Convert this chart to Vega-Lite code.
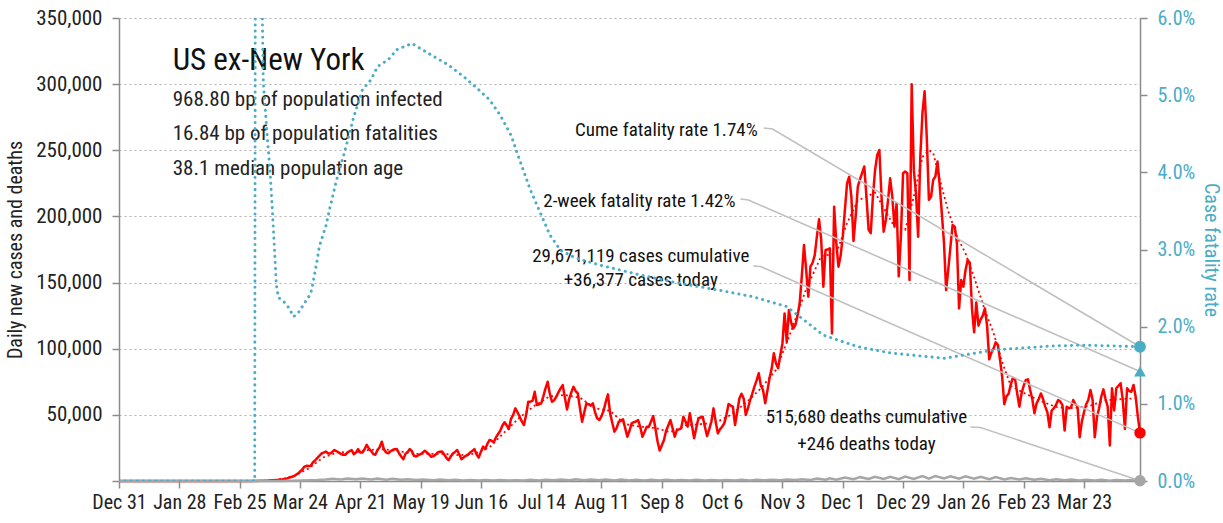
{
"$schema":"https://vega.github.io/schema/vega-lite/v6.json",
"width":1021,"height":463,
"autosize":{"type":"none"},
"padding":{"left":119,"top":18,"right":83,"bottom":42},
"config":{
 "font":"Liberation Sans Narrow, Arial Narrow, Roboto Condensed, DejaVu Sans Condensed, sans-serif",
 "view":{"stroke":null},
 "axis":{"domainColor":"#8c8c8c","domainWidth":1.5,"tickColor":"#8c8c8c","tickWidth":1.5,"tickSize":7,"labelColor":"#222222","labelFontSize":20,"titleFontWeight":"normal","titleColor":"#222222","titleFontSize":20,"labelPadding":10}
},
"datasets":{
"cases":[
{"date":"2019-12-31","cases":0},{"date":"2020-03-01","cases":0},{"date":"2020-03-09","cases":300},
{"date":"2020-03-10","cases":400},{"date":"2020-03-11","cases":500},{"date":"2020-03-12","cases":600},{"date":"2020-03-13","cases":800},{"date":"2020-03-14","cases":900},{"date":"2020-03-15","cases":1100},{"date":"2020-03-16","cases":1300},{"date":"2020-03-17","cases":1600},{"date":"2020-03-18","cases":2000},{"date":"2020-03-19","cases":2600},{"date":"2020-03-20","cases":3000},{"date":"2020-03-21","cases":3600},{"date":"2020-03-22","cases":4500},{"date":"2020-03-23","cases":5600},{"date":"2020-03-24","cases":7000},{"date":"2020-03-25","cases":8500},{"date":"2020-03-26","cases":10700},{"date":"2020-03-27","cases":11500},{"date":"2020-03-28","cases":11400},{"date":"2020-03-29","cases":11400},{"date":"2020-03-30","cases":14000},{"date":"2020-03-31","cases":15500},
{"date":"2020-04-01","cases":17300},{"date":"2020-04-02","cases":19000},{"date":"2020-04-03","cases":20800},{"date":"2020-04-04","cases":21500},{"date":"2020-04-05","cases":22300},{"date":"2020-04-06","cases":21000},{"date":"2020-04-07","cases":20800},{"date":"2020-04-08","cases":22000},{"date":"2020-04-09","cases":23400},{"date":"2020-04-10","cases":22500},{"date":"2020-04-11","cases":21600},{"date":"2020-04-12","cases":20500},{"date":"2020-04-13","cases":19800},{"date":"2020-04-14","cases":19800},{"date":"2020-04-15","cases":21500},{"date":"2020-04-16","cases":22500},{"date":"2020-04-17","cases":23400},{"date":"2020-04-18","cases":20300},{"date":"2020-04-19","cases":21500},{"date":"2020-04-20","cases":24100},{"date":"2020-04-21","cases":21600},{"date":"2020-04-22","cases":21600},{"date":"2020-04-23","cases":24000},{"date":"2020-04-24","cases":27400},{"date":"2020-04-25","cases":24500},{"date":"2020-04-26","cases":22800},{"date":"2020-04-27","cases":20500},{"date":"2020-04-28","cases":19800},{"date":"2020-04-29","cases":23400},{"date":"2020-04-30","cases":25500},
{"date":"2020-05-01","cases":29700},{"date":"2020-05-02","cases":24000},{"date":"2020-05-03","cases":21600},{"date":"2020-05-04","cases":21000},{"date":"2020-05-05","cases":22500},{"date":"2020-05-06","cases":23400},{"date":"2020-05-07","cases":24000},{"date":"2020-05-08","cases":24100},{"date":"2020-05-09","cases":21000},{"date":"2020-05-10","cases":18500},{"date":"2020-05-11","cases":16500},{"date":"2020-05-12","cases":20500},{"date":"2020-05-13","cases":22000},{"date":"2020-05-14","cases":24100},{"date":"2020-05-15","cases":22500},{"date":"2020-05-16","cases":19000},{"date":"2020-05-17","cases":18500},{"date":"2020-05-18","cases":19500},{"date":"2020-05-19","cases":20300},{"date":"2020-05-20","cases":21500},{"date":"2020-05-21","cases":22800},{"date":"2020-05-22","cases":21500},{"date":"2020-05-23","cases":20000},{"date":"2020-05-24","cases":18300},{"date":"2020-05-25","cases":18800},{"date":"2020-05-26","cases":20000},{"date":"2020-05-27","cases":21600},{"date":"2020-05-28","cases":22200},{"date":"2020-05-29","cases":22300},{"date":"2020-05-30","cases":20000},{"date":"2020-05-31","cases":17500},
{"date":"2020-06-01","cases":15700},{"date":"2020-06-02","cases":18500},{"date":"2020-06-03","cases":20800},{"date":"2020-06-04","cases":22000},{"date":"2020-06-05","cases":23400},{"date":"2020-06-06","cases":20000},{"date":"2020-06-07","cases":16500},{"date":"2020-06-08","cases":17800},{"date":"2020-06-09","cases":19000},{"date":"2020-06-10","cases":19800},{"date":"2020-06-11","cases":21500},{"date":"2020-06-12","cases":22700},{"date":"2020-06-13","cases":24100},{"date":"2020-06-14","cases":20000},{"date":"2020-06-15","cases":17800},{"date":"2020-06-16","cases":22000},{"date":"2020-06-17","cases":26000},{"date":"2020-06-18","cases":24100},{"date":"2020-06-19","cases":28000},{"date":"2020-06-20","cases":31000},{"date":"2020-06-21","cases":30500},{"date":"2020-06-22","cases":29200},{"date":"2020-06-23","cases":33000},{"date":"2020-06-24","cases":35500},{"date":"2020-06-25","cases":38000},{"date":"2020-06-26","cases":42000},{"date":"2020-06-27","cases":44400},{"date":"2020-06-28","cases":42000},{"date":"2020-06-29","cases":39300},{"date":"2020-06-30","cases":47000},
{"date":"2020-07-01","cases":50000},{"date":"2020-07-02","cases":54900},{"date":"2020-07-03","cases":52000},{"date":"2020-07-04","cases":48600},{"date":"2020-07-05","cases":45000},{"date":"2020-07-06","cases":42300},{"date":"2020-07-07","cases":50000},{"date":"2020-07-08","cases":59900},{"date":"2020-07-09","cases":60000},{"date":"2020-07-10","cases":60600},{"date":"2020-07-11","cases":67500},{"date":"2020-07-12","cases":57400},{"date":"2020-07-13","cases":58000},{"date":"2020-07-14","cases":58700},{"date":"2020-07-15","cases":64000},{"date":"2020-07-16","cases":70000},{"date":"2020-07-17","cases":75000},{"date":"2020-07-18","cases":66000},{"date":"2020-07-19","cases":59900},{"date":"2020-07-20","cases":61000},{"date":"2020-07-21","cases":63700},{"date":"2020-07-22","cases":67000},{"date":"2020-07-23","cases":70000},{"date":"2020-07-24","cases":72500},{"date":"2020-07-25","cases":63000},{"date":"2020-07-26","cases":54100},{"date":"2020-07-27","cases":62000},{"date":"2020-07-28","cases":67000},{"date":"2020-07-29","cases":71200},{"date":"2020-07-30","cases":68000},{"date":"2020-07-31","cases":66200},
{"date":"2020-08-01","cases":55000},{"date":"2020-08-02","cases":44800},{"date":"2020-08-03","cases":52000},{"date":"2020-08-04","cases":58700},{"date":"2020-08-05","cases":58000},{"date":"2020-08-06","cases":57000},{"date":"2020-08-07","cases":58700},{"date":"2020-08-08","cases":52000},{"date":"2020-08-09","cases":47400},{"date":"2020-08-10","cases":46100},{"date":"2020-08-11","cases":49000},{"date":"2020-08-12","cases":53300},{"date":"2020-08-13","cases":60000},{"date":"2020-08-14","cases":65500},{"date":"2020-08-15","cases":51200},{"date":"2020-08-16","cases":44000},{"date":"2020-08-17","cases":37300},{"date":"2020-08-18","cases":40000},{"date":"2020-08-19","cases":44800},{"date":"2020-08-20","cases":45500},{"date":"2020-08-21","cases":46600},{"date":"2020-08-22","cases":40000},{"date":"2020-08-23","cases":33500},{"date":"2020-08-24","cases":38000},{"date":"2020-08-25","cases":43600},{"date":"2020-08-26","cases":44500},{"date":"2020-08-27","cases":45000},{"date":"2020-08-28","cases":46100},{"date":"2020-08-29","cases":41000},{"date":"2020-08-30","cases":33500},{"date":"2020-08-31","cases":37000},
{"date":"2020-09-01","cases":41100},{"date":"2020-09-02","cases":41000},{"date":"2020-09-03","cases":45000},{"date":"2020-09-04","cases":49100},{"date":"2020-09-05","cases":40000},{"date":"2020-09-06","cases":30000},{"date":"2020-09-07","cases":23000},{"date":"2020-09-08","cases":27000},{"date":"2020-09-09","cases":31000},{"date":"2020-09-10","cases":38000},{"date":"2020-09-11","cases":42000},{"date":"2020-09-12","cases":46100},{"date":"2020-09-13","cases":40000},{"date":"2020-09-14","cases":33500},{"date":"2020-09-15","cases":38500},{"date":"2020-09-16","cases":39000},{"date":"2020-09-17","cases":39800},{"date":"2020-09-18","cases":48600},{"date":"2020-09-19","cases":45000},{"date":"2020-09-20","cases":41100},{"date":"2020-09-21","cases":51200},{"date":"2020-09-22","cases":42000},{"date":"2020-09-23","cases":32300},{"date":"2020-09-24","cases":40000},{"date":"2020-09-25","cases":47400},{"date":"2020-09-26","cases":48000},{"date":"2020-09-27","cases":48600},{"date":"2020-09-28","cases":41000},{"date":"2020-09-29","cases":34000},{"date":"2020-09-30","cases":39000},
{"date":"2020-10-01","cases":44800},{"date":"2020-10-02","cases":54900},{"date":"2020-10-03","cases":45000},{"date":"2020-10-04","cases":36000},{"date":"2020-10-05","cases":39000},{"date":"2020-10-06","cases":41000},{"date":"2020-10-07","cases":43600},{"date":"2020-10-08","cases":50000},{"date":"2020-10-09","cases":58200},{"date":"2020-10-10","cases":57000},{"date":"2020-10-11","cases":56200},{"date":"2020-10-12","cases":42300},{"date":"2020-10-13","cases":52000},{"date":"2020-10-14","cases":62400},{"date":"2020-10-15","cases":66000},{"date":"2020-10-16","cases":62400},{"date":"2020-10-17","cases":49900},{"date":"2020-10-18","cases":55000},{"date":"2020-10-19","cases":61200},{"date":"2020-10-20","cases":66000},{"date":"2020-10-21","cases":71300},{"date":"2020-10-22","cases":76000},{"date":"2020-10-23","cases":81400},{"date":"2020-10-24","cases":72000},{"date":"2020-10-25","cases":68800},{"date":"2020-10-26","cases":58700},{"date":"2020-10-27","cases":68000},{"date":"2020-10-28","cases":77600},{"date":"2020-10-29","cases":85000},{"date":"2020-10-30","cases":96500},{"date":"2020-10-31","cases":89000},
{"date":"2020-11-01","cases":85200},{"date":"2020-11-02","cases":95000},{"date":"2020-11-03","cases":104000},{"date":"2020-11-04","cases":126700},{"date":"2020-11-05","cases":105300},{"date":"2020-11-06","cases":129200},{"date":"2020-11-07","cases":120000},{"date":"2020-11-08","cases":115300},{"date":"2020-11-09","cases":117800},{"date":"2020-11-10","cases":125000},{"date":"2020-11-11","cases":134300},{"date":"2020-11-12","cases":155000},{"date":"2020-11-13","cases":178400},{"date":"2020-11-14","cases":160000},{"date":"2020-11-15","cases":139300},{"date":"2020-11-16","cases":162000},{"date":"2020-11-17","cases":165000},{"date":"2020-11-18","cases":170800},{"date":"2020-11-19","cases":185000},{"date":"2020-11-20","cases":197800},{"date":"2020-11-21","cases":182200},{"date":"2020-11-22","cases":146900},{"date":"2020-11-23","cases":174600},{"date":"2020-11-24","cases":175000},{"date":"2020-11-25","cases":175900},{"date":"2020-11-26","cases":111600},{"date":"2020-11-27","cases":207400},{"date":"2020-11-28","cases":180000},{"date":"2020-11-29","cases":162000},{"date":"2020-11-30","cases":170000},
{"date":"2020-12-01","cases":184700},{"date":"2020-12-02","cases":205000},{"date":"2020-12-03","cases":225000},{"date":"2020-12-04","cases":230000},{"date":"2020-12-05","cases":215000},{"date":"2020-12-06","cases":181500},{"date":"2020-12-07","cases":200000},{"date":"2020-12-08","cases":222600},{"date":"2020-12-09","cases":228000},{"date":"2020-12-10","cases":233000},{"date":"2020-12-11","cases":237800},{"date":"2020-12-12","cases":215000},{"date":"2020-12-13","cases":190000},{"date":"2020-12-14","cases":187300},{"date":"2020-12-15","cases":215000},{"date":"2020-12-16","cases":235000},{"date":"2020-12-17","cases":246400},{"date":"2020-12-18","cases":250200},{"date":"2020-12-19","cases":215000},{"date":"2020-12-20","cases":188500},{"date":"2020-12-21","cases":197300},{"date":"2020-12-22","cases":212000},{"date":"2020-12-23","cases":228800},{"date":"2020-12-24","cases":215000},{"date":"2020-12-25","cases":192200},{"date":"2020-12-26","cases":210000},{"date":"2020-12-27","cases":154700},{"date":"2020-12-28","cases":185000},{"date":"2020-12-29","cases":232700},{"date":"2020-12-30","cases":234000},{"date":"2020-12-31","cases":232700},
{"date":"2021-01-01","cases":152000},{"date":"2021-01-02","cases":300000},{"date":"2021-01-03","cases":235000},{"date":"2021-01-04","cases":217400},{"date":"2021-01-05","cases":184600},{"date":"2021-01-06","cases":245100},{"date":"2021-01-07","cases":278000},{"date":"2021-01-08","cases":294600},{"date":"2021-01-09","cases":260000},{"date":"2021-01-10","cases":212600},{"date":"2021-01-11","cases":215000},{"date":"2021-01-12","cases":227600},{"date":"2021-01-13","cases":230200},{"date":"2021-01-14","cases":241500},{"date":"2021-01-15","cases":223700},{"date":"2021-01-16","cases":202300},{"date":"2021-01-17","cases":180000},{"date":"2021-01-18","cases":144300},{"date":"2021-01-19","cases":160000},{"date":"2021-01-20","cases":177100},{"date":"2021-01-21","cases":193500},{"date":"2021-01-22","cases":192200},{"date":"2021-01-23","cases":179600},{"date":"2021-01-24","cases":130500},{"date":"2021-01-25","cases":151900},{"date":"2021-01-26","cases":146900},{"date":"2021-01-27","cases":159500},{"date":"2021-01-28","cases":167000},{"date":"2021-01-29","cases":165000},{"date":"2021-01-30","cases":130000},{"date":"2021-01-31","cases":112400},
{"date":"2021-02-01","cases":135000},{"date":"2021-02-02","cases":117400},{"date":"2021-02-03","cases":122000},{"date":"2021-02-04","cases":125000},{"date":"2021-02-05","cases":130500},{"date":"2021-02-06","cases":117400},{"date":"2021-02-07","cases":92000},{"date":"2021-02-08","cases":97000},{"date":"2021-02-09","cases":100000},{"date":"2021-02-10","cases":104800},{"date":"2021-02-11","cases":103000},{"date":"2021-02-12","cases":92000},{"date":"2021-02-13","cases":79000},{"date":"2021-02-14","cases":58000},{"date":"2021-02-15","cases":64000},{"date":"2021-02-16","cases":66000},{"date":"2021-02-17","cases":73000},{"date":"2021-02-18","cases":78000},{"date":"2021-02-19","cases":77000},{"date":"2021-02-20","cases":66000},{"date":"2021-02-21","cases":56200},{"date":"2021-02-22","cases":66200},{"date":"2021-02-23","cases":72000},{"date":"2021-02-24","cases":76300},{"date":"2021-02-25","cases":76800},{"date":"2021-02-26","cases":68800},{"date":"2021-02-27","cases":62000},{"date":"2021-02-28","cases":51200},
{"date":"2021-03-01","cases":58700},{"date":"2021-03-02","cases":62000},{"date":"2021-03-03","cases":66200},{"date":"2021-03-04","cases":62000},{"date":"2021-03-05","cases":56200},{"date":"2021-03-06","cases":52000},{"date":"2021-03-07","cases":40600},{"date":"2021-03-08","cases":53300},{"date":"2021-03-09","cases":55000},{"date":"2021-03-10","cases":57400},{"date":"2021-03-11","cases":61200},{"date":"2021-03-12","cases":60000},{"date":"2021-03-13","cases":57400},{"date":"2021-03-14","cases":38100},{"date":"2021-03-15","cases":56200},{"date":"2021-03-16","cases":55000},{"date":"2021-03-17","cases":55600},{"date":"2021-03-18","cases":61200},{"date":"2021-03-19","cases":58000},{"date":"2021-03-20","cases":56200},{"date":"2021-03-21","cases":33100},{"date":"2021-03-22","cases":45000},{"date":"2021-03-23","cases":52000},{"date":"2021-03-24","cases":58000},{"date":"2021-03-25","cases":61200},{"date":"2021-03-26","cases":68800},{"date":"2021-03-27","cases":61200},{"date":"2021-03-28","cases":33100},{"date":"2021-03-29","cases":48000},{"date":"2021-03-30","cases":55000},{"date":"2021-03-31","cases":63700},
{"date":"2021-04-01","cases":69300},{"date":"2021-04-02","cases":62000},{"date":"2021-04-03","cases":56200},{"date":"2021-04-04","cases":26800},{"date":"2021-04-05","cases":70100},{"date":"2021-04-06","cases":53300},{"date":"2021-04-07","cases":70100},{"date":"2021-04-08","cases":72000},{"date":"2021-04-09","cases":73900},{"date":"2021-04-10","cases":61200},{"date":"2021-04-11","cases":39300},{"date":"2021-04-12","cases":70100},{"date":"2021-04-13","cases":68000},{"date":"2021-04-14","cases":67500},{"date":"2021-04-15","cases":72600},{"date":"2021-04-16","cases":63700},{"date":"2021-04-17","cases":48600},{"date":"2021-04-18","cases":36377}
],
"avg":[
{"date":"2019-12-31","avg":0},{"date":"2020-03-07","avg":100},{"date":"2020-03-14","avg":900},{"date":"2020-03-21","avg":3500},{"date":"2020-03-28","avg":9500},{"date":"2020-04-04","avg":18000},{"date":"2020-04-11","avg":21800},{"date":"2020-04-18","avg":21500},{"date":"2020-04-25","avg":23500},{"date":"2020-05-02","avg":24000},{"date":"2020-05-09","avg":22500},{"date":"2020-05-16","avg":20500},{"date":"2020-05-23","avg":20500},{"date":"2020-05-30","avg":20500},{"date":"2020-06-06","avg":19500},{"date":"2020-06-13","avg":20500},{"date":"2020-06-20","avg":25500},{"date":"2020-06-27","avg":37000},{"date":"2020-07-04","avg":48000},{"date":"2020-07-11","avg":57000},{"date":"2020-07-18","avg":64000},{"date":"2020-07-25","avg":65000},{"date":"2020-08-01","avg":63000},{"date":"2020-08-08","avg":55000},{"date":"2020-08-15","avg":53000},{"date":"2020-08-22","avg":43000},{"date":"2020-08-29","avg":41000},{"date":"2020-09-05","avg":40000},{"date":"2020-09-12","avg":37000},{"date":"2020-09-19","avg":42000},{"date":"2020-09-26","avg":43000},{"date":"2020-10-03","avg":44000},{"date":"2020-10-10","avg":50000},{"date":"2020-10-17","avg":59000},{"date":"2020-10-24","avg":70000},{"date":"2020-10-31","avg":84000},{"date":"2020-11-07","avg":113000},{"date":"2020-11-14","avg":145000},{"date":"2020-11-21","avg":170000},{"date":"2020-11-28","avg":172000},{"date":"2020-12-03","avg":195000},{"date":"2020-12-08","avg":212000},{"date":"2020-12-16","avg":218000},{"date":"2020-12-24","avg":195000},{"date":"2020-12-30","avg":190000},{"date":"2021-01-03","avg":215000},{"date":"2021-01-07","avg":245000},{"date":"2021-01-10","avg":250000},{"date":"2021-01-12","avg":248000},{"date":"2021-01-16","avg":222000},{"date":"2021-01-19","avg":204000},{"date":"2021-01-23","avg":185000},{"date":"2021-01-27","avg":172000},{"date":"2021-01-31","avg":154000},{"date":"2021-02-05","avg":129000},{"date":"2021-02-09","avg":112000},{"date":"2021-02-13","avg":90000},{"date":"2021-02-17","avg":72000},{"date":"2021-02-22","avg":67500},{"date":"2021-03-02","avg":61000},{"date":"2021-03-10","avg":56000},{"date":"2021-03-18","avg":55000},{"date":"2021-03-26","avg":57000},{"date":"2021-04-02","avg":61000},{"date":"2021-04-10","avg":62000},{"date":"2021-04-17","avg":62500}
],
"deaths":[
{"date":"2019-12-31","deaths":0},{"date":"2020-03-01","deaths":0},{"date":"2020-03-15","deaths":20},{"date":"2020-03-25","deaths":300},{"date":"2020-04-01","deaths":700},{"date":"2020-04-05","deaths":1100},{"date":"2020-04-08","deaths":1700},{"date":"2020-04-12","deaths":1200},{"date":"2020-04-15","deaths":1900},{"date":"2020-04-19","deaths":1300},{"date":"2020-04-22","deaths":1800},{"date":"2020-04-26","deaths":1100},{"date":"2020-04-29","deaths":1800},{"date":"2020-05-03","deaths":1000},{"date":"2020-05-06","deaths":1600},{"date":"2020-05-10","deaths":900},{"date":"2020-05-13","deaths":1400},{"date":"2020-05-17","deaths":800},{"date":"2020-05-20","deaths":1200},{"date":"2020-05-25","deaths":500},{"date":"2020-05-28","deaths":1100},{"date":"2020-06-01","deaths":600},{"date":"2020-06-04","deaths":900},{"date":"2020-06-08","deaths":400},{"date":"2020-06-11","deaths":800},{"date":"2020-06-15","deaths":350},{"date":"2020-06-18","deaths":700},{"date":"2020-06-22","deaths":300},{"date":"2020-06-25","deaths":700},{"date":"2020-06-29","deaths":350},{"date":"2020-07-02","deaths":650},{"date":"2020-07-06","deaths":300},{"date":"2020-07-09","deaths":850},{"date":"2020-07-13","deaths":450},{"date":"2020-07-16","deaths":950},{"date":"2020-07-20","deaths":500},{"date":"2020-07-23","deaths":1100},{"date":"2020-07-27","deaths":600},{"date":"2020-07-30","deaths":1250},{"date":"2020-08-03","deaths":500},{"date":"2020-08-06","deaths":1200},{"date":"2020-08-10","deaths":500},{"date":"2020-08-13","deaths":1200},{"date":"2020-08-17","deaths":450},{"date":"2020-08-20","deaths":1100},{"date":"2020-08-24","deaths":400},{"date":"2020-08-27","deaths":1000},{"date":"2020-08-31","deaths":400},{"date":"2020-09-03","deaths":900},{"date":"2020-09-07","deaths":300},{"date":"2020-09-10","deaths":900},{"date":"2020-09-14","deaths":400},{"date":"2020-09-17","deaths":800},{"date":"2020-09-21","deaths":350},{"date":"2020-09-24","deaths":850},{"date":"2020-09-28","deaths":300},{"date":"2020-10-01","deaths":800},{"date":"2020-10-05","deaths":350},{"date":"2020-10-08","deaths":800},{"date":"2020-10-12","deaths":350},{"date":"2020-10-15","deaths":850},{"date":"2020-10-19","deaths":450},{"date":"2020-10-22","deaths":900},{"date":"2020-10-26","deaths":500},{"date":"2020-10-29","deaths":1000},{"date":"2020-11-02","deaths":550},{"date":"2020-11-05","deaths":1200},{"date":"2020-11-09","deaths":700},{"date":"2020-11-12","deaths":1300},{"date":"2020-11-16","deaths":800},{"date":"2020-11-19","deaths":1800},{"date":"2020-11-23","deaths":1000},{"date":"2020-11-25","deaths":2100},{"date":"2020-11-28","deaths":1000},{"date":"2020-12-02","deaths":2600},{"date":"2020-12-06","deaths":1300},{"date":"2020-12-09","deaths":2900},{"date":"2020-12-13","deaths":1500},{"date":"2020-12-16","deaths":3100},{"date":"2020-12-20","deaths":1600},{"date":"2020-12-23","deaths":3200},{"date":"2020-12-27","deaths":1300},{"date":"2020-12-30","deaths":3300},{"date":"2021-01-03","deaths":1500},{"date":"2021-01-07","deaths":3700},{"date":"2021-01-10","deaths":1800},{"date":"2021-01-13","deaths":3800},{"date":"2021-01-17","deaths":1900},{"date":"2021-01-20","deaths":3600},{"date":"2021-01-24","deaths":1700},{"date":"2021-01-27","deaths":3500},{"date":"2021-01-31","deaths":1800},{"date":"2021-02-03","deaths":3200},{"date":"2021-02-07","deaths":1400},{"date":"2021-02-10","deaths":3000},{"date":"2021-02-14","deaths":1100},{"date":"2021-02-17","deaths":2200},{"date":"2021-02-21","deaths":1100},{"date":"2021-02-24","deaths":2100},{"date":"2021-02-28","deaths":900},{"date":"2021-03-03","deaths":1700},{"date":"2021-03-07","deaths":600},{"date":"2021-03-10","deaths":1400},{"date":"2021-03-14","deaths":500},{"date":"2021-03-17","deaths":1100},{"date":"2021-03-21","deaths":400},{"date":"2021-03-24","deaths":1000},{"date":"2021-03-28","deaths":350},{"date":"2021-03-31","deaths":900},{"date":"2021-04-04","deaths":250},{"date":"2021-04-07","deaths":800},{"date":"2021-04-11","deaths":300},{"date":"2021-04-14","deaths":700},{"date":"2021-04-18","deaths":246}
],
"cfr":[
{"date":"2019-12-31","cfr":0},{"date":"2020-03-03","cfr":0},{"date":"2020-03-04","cfr":0.25},{"date":"2020-03-06","cfr":0.07},{"date":"2020-03-07","cfr":0.0516},{"date":"2020-03-09","cfr":0.044},{"date":"2020-03-10","cfr":0.0407},{"date":"2020-03-11","cfr":0.036},{"date":"2020-03-12","cfr":0.031},{"date":"2020-03-13","cfr":0.0255},{"date":"2020-03-14","cfr":0.0238},{"date":"2020-03-17","cfr":0.0231},{"date":"2020-03-19","cfr":0.0224},{"date":"2020-03-21","cfr":0.0213},{"date":"2020-03-23","cfr":0.0217},{"date":"2020-03-29","cfr":0.0243},{"date":"2020-03-30","cfr":0.0256},{"date":"2020-04-01","cfr":0.0286},{"date":"2020-04-02","cfr":0.0304},{"date":"2020-04-05","cfr":0.033},{"date":"2020-04-07","cfr":0.0355},{"date":"2020-04-10","cfr":0.039},{"date":"2020-04-14","cfr":0.0429},{"date":"2020-04-18","cfr":0.0472},{"date":"2020-04-22","cfr":0.0507},{"date":"2020-04-26","cfr":0.052},{"date":"2020-04-29","cfr":0.0537},{"date":"2020-05-04","cfr":0.0546},{"date":"2020-05-08","cfr":0.0559},{"date":"2020-05-15","cfr":0.0567},{"date":"2020-05-24","cfr":0.0552},{"date":"2020-06-01","cfr":0.0539},{"date":"2020-06-08","cfr":0.0524},{"date":"2020-06-15","cfr":0.0507},{"date":"2020-06-20","cfr":0.0494},{"date":"2020-06-25","cfr":0.0474},{"date":"2020-06-30","cfr":0.0448},{"date":"2020-07-04","cfr":0.0416},{"date":"2020-07-09","cfr":0.0377},{"date":"2020-07-14","cfr":0.0345},{"date":"2020-07-18","cfr":0.0319},{"date":"2020-07-23","cfr":0.0299},{"date":"2020-07-30","cfr":0.0289},{"date":"2020-08-10","cfr":0.028},{"date":"2020-08-29","cfr":0.0267},{"date":"2020-09-13","cfr":0.0258},{"date":"2020-10-05","cfr":0.0247},{"date":"2020-10-20","cfr":0.0239},{"date":"2020-11-05","cfr":0.0226},{"date":"2020-11-11","cfr":0.0213},{"date":"2020-11-22","cfr":0.0189},{"date":"2020-12-08","cfr":0.0174},{"date":"2020-12-23","cfr":0.0166},{"date":"2021-01-17","cfr":0.0159},{"date":"2021-02-10","cfr":0.017},{"date":"2021-02-21","cfr":0.0172},{"date":"2021-03-08","cfr":0.0175},{"date":"2021-03-23","cfr":0.0176},{"date":"2021-04-18","cfr":0.0174}
],
"leftMarkers":[
{"date":"2021-04-18","series":"cases","value":36377},{"date":"2021-04-18","series":"deaths","value":246}
],
"rightMarkers":[
{"date":"2021-04-18","kind":"cume","cfr":0.0174},{"date":"2021-04-18","kind":"2wk","cfr":0.0142}
],
"leaders":[
{"id":"cume","ord":1,"date":"2020-10-25T05:00Z","value":266868},{"id":"cume","ord":2,"date":"2020-10-29T10:00Z","value":266112},{"id":"cume","ord":3,"date":"2021-04-18T00:00Z","value":101500},
{"id":"2wk","ord":1,"date":"2020-10-14T12:00Z","value":213192},{"id":"2wk","ord":2,"date":"2020-10-18T05:00Z","value":212436},{"id":"2wk","ord":3,"date":"2021-04-18T00:00Z","value":82833},
{"id":"cases","ord":1,"date":"2020-10-20T12:00Z","value":162540},{"id":"cases","ord":2,"date":"2020-10-23T19:00Z","value":162162},{"id":"cases","ord":3,"date":"2021-04-18T00:00Z","value":36377},
{"id":"deaths","ord":1,"date":"2021-01-29T07:00Z","value":40824},{"id":"deaths","ord":2,"date":"2021-02-02T22:00Z","value":40446},{"id":"deaths","ord":3,"date":"2021-04-18T00:00Z","value":246}
],
"notes":[
{"grp":"title","date":"2020-01-24T22:00Z","value":310700,"label":"US ex-New York"},
{"grp":"info","date":"2020-01-24T22:00Z","value":283300,"label":"968.80 bp of population infected"},
{"grp":"info","date":"2020-01-24T22:00Z","value":257800,"label":"16.84 bp of population fatalities"},
{"grp":"info","date":"2020-01-24T22:00Z","value":231300,"label":"38.1 median population age"},
{"grp":"rnote","date":"2020-10-22T12:00Z","value":260800,"label":"Cume fatality rate 1.74%"},
{"grp":"rnote","date":"2020-10-12T05:00Z","value":206900,"label":"2-week fatality rate 1.42%"},
{"grp":"cnote","date":"2020-08-29T06:00Z","value":165800,"label":"29,671,119 cases cumulative"},
{"grp":"cnote","date":"2020-08-29T06:00Z","value":147400,"label":"+36,377 cases today"},
{"grp":"cnote","date":"2020-12-12T00:00Z","value":43600,"label":"515,680 deaths cumulative"},
{"grp":"cnote","date":"2020-12-12T00:00Z","value":23400,"label":"+246 deaths today"}
]
},
"layer":[
{"layer":[
 {"data":{"name":"cases"},
  "mark":{"type":"line","color":"#ff0000","strokeWidth":2.5,"strokeJoin":"round"},
  "encoding":{
   "x":{"field":"date","type":"temporal","scale":{"type":"utc","domain":[{"year":2019,"month":12,"date":31,"utc":true},{"year":2021,"month":4,"date":18,"utc":true}]},
    "axis":{"title":null,"grid":false,"format":"%b %-d","labelPadding":4,"labelFontSize":20,"labelOverlap":false,"labelFlush":false,
     "values":[{"year":2019,"month":12,"date":31,"utc":true},{"year":2020,"month":1,"date":28,"utc":true},{"year":2020,"month":2,"date":25,"utc":true},{"year":2020,"month":3,"date":24,"utc":true},{"year":2020,"month":4,"date":21,"utc":true},{"year":2020,"month":5,"date":19,"utc":true},{"year":2020,"month":6,"date":16,"utc":true},{"year":2020,"month":7,"date":14,"utc":true},{"year":2020,"month":8,"date":11,"utc":true},{"year":2020,"month":9,"date":8,"utc":true},{"year":2020,"month":10,"date":6,"utc":true},{"year":2020,"month":11,"date":3,"utc":true},{"year":2020,"month":12,"date":1,"utc":true},{"year":2020,"month":12,"date":29,"utc":true},{"year":2021,"month":1,"date":26,"utc":true},{"year":2021,"month":2,"date":23,"utc":true},{"year":2021,"month":3,"date":23,"utc":true}]}},
   "y":{"field":"cases","type":"quantitative","scale":{"domain":[0,350000],"nice":false},
    "axis":{"title":"Daily new cases and deaths","values":[0,50000,100000,150000,200000,250000,300000,350000],"labelExpr":"datum.value === 0 ? '' : format(datum.value, ',')","grid":true,"gridDash":[2,3],"gridColor":"#b0b0b0","gridWidth":1,"labelFontSize":21,"titlePadding":10}}
  }},
 {"data":{"name":"avg"},
  "mark":{"type":"line","color":"#ff0000","strokeWidth":1.8,"strokeDash":[2,3]},
  "encoding":{
   "x":{"field":"date","type":"temporal","scale":{"type":"utc","domain":[{"year":2019,"month":12,"date":31,"utc":true},{"year":2021,"month":4,"date":18,"utc":true}]}},
   "y":{"field":"avg","type":"quantitative","scale":{"domain":[0,350000],"nice":false}}
  }},
 {"data":{"name":"deaths"},
  "mark":{"type":"line","color":"#a6a6a6","strokeWidth":2.5},
  "encoding":{
   "x":{"field":"date","type":"temporal","scale":{"type":"utc","domain":[{"year":2019,"month":12,"date":31,"utc":true},{"year":2021,"month":4,"date":18,"utc":true}]}},
   "y":{"field":"deaths","type":"quantitative","scale":{"domain":[0,350000],"nice":false}}
  }},
 {"data":{"name":"leaders"},
  "mark":{"type":"line","color":"#c0c0c0","strokeWidth":1.6},
  "encoding":{
   "x":{"field":"date","type":"temporal","scale":{"type":"utc","domain":[{"year":2019,"month":12,"date":31,"utc":true},{"year":2021,"month":4,"date":18,"utc":true}]}},
   "y":{"field":"value","type":"quantitative","scale":{"domain":[0,350000],"nice":false}},
   "detail":{"field":"id"},
   "order":{"field":"ord","type":"quantitative"}
  }},
 {"data":{"name":"leftMarkers"},
  "mark":{"type":"point","filled":true,"shape":"circle","size":130,"opacity":1},
  "encoding":{
   "x":{"field":"date","type":"temporal","scale":{"type":"utc","domain":[{"year":2019,"month":12,"date":31,"utc":true},{"year":2021,"month":4,"date":18,"utc":true}]}},
   "y":{"field":"value","type":"quantitative","scale":{"domain":[0,350000],"nice":false}},
   "color":{"field":"series","type":"nominal","scale":{"domain":["cases","deaths"],"range":["#ff0000","#a6a6a6"]},"legend":null}
  }},
 {"data":{"name":"notes"},
  "transform":[{"filter":"datum.grp === 'title'"}],
  "mark":{"type":"text","align":"left","baseline":"alphabetic","fontSize":31,"color":"#111111"},
  "encoding":{
   "x":{"field":"date","type":"temporal","scale":{"type":"utc","domain":[{"year":2019,"month":12,"date":31,"utc":true},{"year":2021,"month":4,"date":18,"utc":true}]}},
   "y":{"field":"value","type":"quantitative","scale":{"domain":[0,350000],"nice":false}},
   "text":{"field":"label"}
  }},
 {"data":{"name":"notes"},
  "transform":[{"filter":"datum.grp === 'info'"}],
  "mark":{"type":"text","align":"left","baseline":"alphabetic","fontSize":21,"color":"#222222"},
  "encoding":{
   "x":{"field":"date","type":"temporal","scale":{"type":"utc","domain":[{"year":2019,"month":12,"date":31,"utc":true},{"year":2021,"month":4,"date":18,"utc":true}]}},
   "y":{"field":"value","type":"quantitative","scale":{"domain":[0,350000],"nice":false}},
   "text":{"field":"label"}
  }},
 {"data":{"name":"notes"},
  "transform":[{"filter":"datum.grp === 'rnote'"}],
  "mark":{"type":"text","align":"right","baseline":"alphabetic","fontSize":19,"color":"#111111"},
  "encoding":{
   "x":{"field":"date","type":"temporal","scale":{"type":"utc","domain":[{"year":2019,"month":12,"date":31,"utc":true},{"year":2021,"month":4,"date":18,"utc":true}]}},
   "y":{"field":"value","type":"quantitative","scale":{"domain":[0,350000],"nice":false}},
   "text":{"field":"label"}
  }},
 {"data":{"name":"notes"},
  "transform":[{"filter":"datum.grp === 'cnote'"}],
  "mark":{"type":"text","align":"center","baseline":"alphabetic","fontSize":19,"color":"#111111"},
  "encoding":{
   "x":{"field":"date","type":"temporal","scale":{"type":"utc","domain":[{"year":2019,"month":12,"date":31,"utc":true},{"year":2021,"month":4,"date":18,"utc":true}]}},
   "y":{"field":"value","type":"quantitative","scale":{"domain":[0,350000],"nice":false}},
   "text":{"field":"label"}
  }}
]},
{"layer":[
 {"data":{"name":"cfr"},
  "mark":{"type":"line","color":"#4bacc6","strokeWidth":3,"strokeCap":"round","strokeDash":[0.1,6],"clip":true},
  "encoding":{
   "x":{"field":"date","type":"temporal","scale":{"type":"utc","domain":[{"year":2019,"month":12,"date":31,"utc":true},{"year":2021,"month":4,"date":18,"utc":true}]}},
   "y":{"field":"cfr","type":"quantitative","scale":{"domain":[0,0.06],"nice":false},
    "axis":{"orient":"right","title":"Case fatality rate","values":[0,0.01,0.02,0.03,0.04,0.05,0.06],"format":".1%","grid":false,"labelColor":"#4bacc6","titleColor":"#4bacc6","labelFontSize":20,"titleFontSize":20,"titlePadding":6}}
  }},
 {"data":{"name":"rightMarkers"},
  "mark":{"type":"point","filled":true,"size":140,"opacity":1,"color":"#4bacc6"},
  "encoding":{
   "x":{"field":"date","type":"temporal","scale":{"type":"utc","domain":[{"year":2019,"month":12,"date":31,"utc":true},{"year":2021,"month":4,"date":18,"utc":true}]}},
   "y":{"field":"cfr","type":"quantitative","scale":{"domain":[0,0.06],"nice":false}},
   "shape":{"field":"kind","type":"nominal","scale":{"domain":["cume","2wk"],"range":["circle","triangle-up"]},"legend":null}
  }}
]}
],
"resolve":{"scale":{"y":"independent"}}
}
